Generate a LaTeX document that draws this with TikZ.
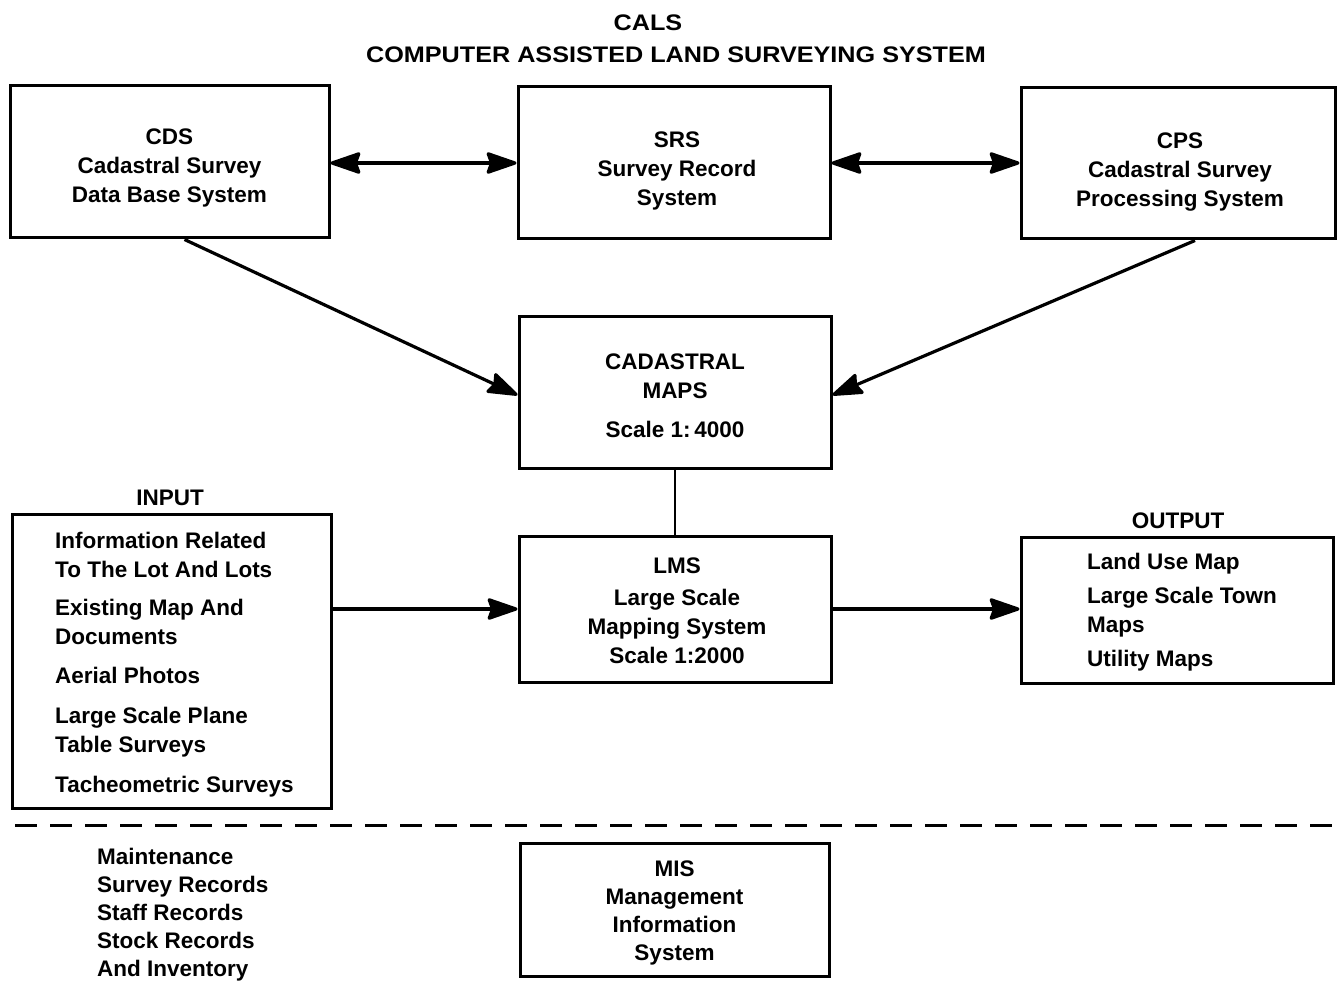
\documentclass[tikz,border=0pt]{standalone}
\usepackage{fontspec}
\setmainfont{Liberation Sans}
\newfontfamily\titlefont[FakeStretch=1.12]{Liberation Sans}
\usetikzlibrary{arrows.meta}
\begin{document}
\begin{tikzpicture}[x=1pt,y=-1pt,
  every node/.style={font=\fontsize{22.5}{29}\selectfont\bfseries},
  sysbox/.style={draw,line width=3pt,inner sep=0pt},
  boxtext/.style={align=center,inner sep=0pt},
  listtext/.style={anchor=north west,align=left,inner sep=0pt},
  flow/.style={line width=3.2pt,-{Stealth[length=34pt,width=23pt,inset=4pt,round]}},
  dflow/.style={line width=3.2pt,{Stealth[length=34pt,width=23pt,inset=4pt,round]}-{Stealth[length=34pt,width=23pt,inset=4pt,round]}},
  link/.style={line width=2.5pt},
  divider/.style={line width=3pt,dash pattern=on 22pt off 13pt}]
\useasboundingbox (0,0) rectangle (1337,981);

% title
\node[font=\titlefont\fontsize{22.5}{29}\selectfont\bfseries] (t1) at (648,23) {CALS};
\node[font=\titlefont\fontsize{22.5}{29}\selectfont\bfseries] (t2) at (676,55) {COMPUTER ASSISTED LAND SURVEYING SYSTEM};

% upper row of systems
\node[sysbox,minimum width=319pt,minimum height=152pt] (cds) at (169.5,162) {};
\node[boxtext] (cdst) at ([yshift=-6pt]cds.center) {CDS\\Cadastral Survey\\Data Base System};
\node[sysbox,minimum width=312pt,minimum height=152pt] (srs) at (674,163) {};
\node[boxtext] (srst) at ([yshift=-8pt,xshift=3pt]srs.center) {SRS\\Survey Record\\System};
\node[sysbox,minimum width=314pt,minimum height=151pt] (cps) at (1178,163.5) {};
\node[boxtext] (cpst) at ([yshift=-9pt,xshift=2pt]cps.center) {CPS\\Cadastral Survey\\Processing System};

% cadastral maps
\node[sysbox,minimum width=312pt,minimum height=152pt] (cad) at (675,392) {};
\node[boxtext] (cadt) at ([yshift=-4pt]cad.center) {CADASTRAL\\MAPS\\[10pt]Scale 1:\,4000};

% large scale mapping
\node[sysbox,minimum width=312pt,minimum height=146pt] (lms) at (675,609) {};
\node[boxtext] (lmst) at ([yshift=-2pt,xshift=2pt]lms.center) {LMS\\[3pt]Large Scale\\Mapping System\\Scale 1:2000};

% input
\node (inlab) at (170,498) {INPUT};
\node[sysbox,minimum width=319pt,minimum height=294pt] (inbox) at (171.5,661) {};
\node[listtext] (intext) at (55,532)
  {Information Related\\To The Lot And Lots\\[9pt]Existing Map And\\Documents\\[10pt]Aerial Photos\\[11pt]Large Scale Plane\\Table Surveys\\[11pt]Tacheometric Surveys};

% output
\node (outlab) at (1178,521) {OUTPUT};
\node[sysbox,minimum width=312pt,minimum height=146pt] (outbox) at (1177,610) {};
\node[listtext] (outtext) at (1087,553)
  {Land Use Map\\[5pt]Large Scale Town\\Maps\\[5pt]Utility Maps};

% divider
\coordinate (dl) at (15,825);
\coordinate (dr) at (1337,825);
\draw[divider] (dl) -- (dr);

% maintenance
\node[listtext,font=\fontsize{22.5}{28}\selectfont\bfseries] (maint) at (97,848)
  {Maintenance\\Survey Records\\Staff Records\\Stock Records\\And Inventory};
\node[sysbox,minimum width=309pt,minimum height=133pt] (mis) at (674.5,909.5) {};
\node[boxtext,font=\fontsize{22.5}{28}\selectfont\bfseries] (mist) at ([yshift=-3pt]mis.center) {MIS\\Management\\Information\\System};

% connectors
\draw[dflow] (cds.east |- 0,163) -- (srs.west |- 0,163);
\draw[dflow] (srs.east |- 0,163) -- (cps.west |- 0,163);
\draw[flow] ([xshift=15pt]cds.south) -- ([yshift=-3pt]cad.west);
\draw[flow] ([xshift=17pt]cps.south) -- ([yshift=-3pt]cad.east);
\draw[link] (cad.south) -- (lms.north);
\draw[flow] (inbox.east |- lms.west) -- (lms.west);
\draw[flow] (lms.east) -- (outbox.west |- lms.east);
\end{tikzpicture}
\end{document}
